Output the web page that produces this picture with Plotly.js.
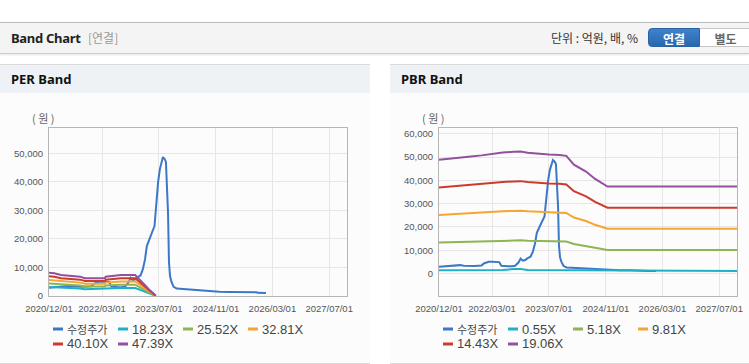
<!DOCTYPE html>
<html><head><meta charset="utf-8">
<script src="https://cdn.plot.ly/plotly-3.0.1.min.js"></script>
<style>
body{margin:0;width:749px;height:364px;overflow:hidden;background:#fff;position:relative;font-family:"Liberation Sans","Noto Sans CJK KR",sans-serif}
.hdr{position:absolute;left:0;top:22px;width:749px;height:30px;background:#f4f4f4;border-top:1px solid #b9b9b9;border-bottom:1px solid #cdcdcd;box-shadow:0 1px 2px rgba(0,0,0,.10)}
.hdr .t{position:absolute;left:11px;top:7px;font-size:13px;font-weight:bold;color:#222;font-family:"Noto Sans","Noto Sans CJK KR",sans-serif;line-height:16px;letter-spacing:-0.3px}
.hdr .s{position:absolute;left:88px;top:7px;font-size:12px;color:#999;line-height:16px;font-family:"Noto Sans CJK KR",sans-serif}
.hdr .u{position:absolute;left:551px;top:7px;font-size:12px;color:#333;line-height:16px;font-family:"Noto Sans CJK KR",sans-serif}
.btn{position:absolute;top:5px;height:19px;line-height:19px;text-align:center;font-size:12px;font-weight:bold;font-family:"Noto Sans CJK KR",sans-serif;box-sizing:border-box}
.b1{left:648px;width:52px;background:linear-gradient(#3d83cc,#2a67ad);color:#fff;border-radius:4px 0 0 4px;border:1px solid #2a62a3}
.b2{left:700px;width:52px;background:#fff;color:#666;border:1px solid #c6c6c6;border-left:none}
.panel{position:absolute;top:64px;height:298px;background:#fcfcfd;border-top:1px solid #dadada;border-bottom:1px solid #dadada}
.panel .ph{height:28px;background:#eef2f7;position:relative}
.panel .ph span{position:absolute;left:11px;top:6px;font-size:13px;font-weight:bold;color:#111;font-family:"Noto Sans",sans-serif;line-height:16px}
#per,#pbr{position:absolute;top:92px;height:270px}
</style></head>
<body>
<div class="hdr"><span class="t">Band Chart</span><span class="s">[연결]</span><span class="u">단위 : 억원, 배, %</span><div class="btn b1">연결</div><div class="btn b2">별도</div></div>
<div class="panel" style="left:0;width:370px"><div class="ph"><span>PER Band</span></div></div>
<div class="panel" style="left:390px;width:359px"><div class="ph"><span>PBR Band</span></div></div>
<div id="per" style="left:0;width:370px"></div>
<div id="pbr" style="left:390px;width:359px"></div>
<script>
// ---- data ----
const priceDates = ['2020-12-01','2021-01-01','2021-02-01','2021-03-01','2021-04-01','2021-05-01','2021-06-01','2021-07-01','2021-08-01','2021-09-01','2021-10-01','2021-11-01','2021-12-01','2021-12-20','2022-01-10','2022-02-01','2022-03-01','2022-04-01','2022-05-01','2022-05-20','2022-06-15','2022-07-15','2022-08-15','2022-09-15','2022-10-15','2022-11-01','2022-11-20','2022-12-10','2023-01-01','2023-01-25','2023-02-15','2023-03-05','2023-03-20','2023-04-10','2023-05-01','2023-05-25','2023-06-10','2023-06-25','2023-07-10','2023-07-25','2023-08-05','2023-08-20','2023-08-31','2023-09-12','2023-09-18','2023-09-26','2023-10-05','2023-10-17','2023-11-05','2023-12-01','2024-01-01','2024-03-01','2024-05-01','2024-07-01','2024-10-01','2024-12-01','2025-03-01','2025-06-01','2025-09-01','2025-10-15','2025-10-25','2026-01-05'];
const priceValues = [2900,3000,3000,3100,3200,3300,3600,3300,3200,3200,3200,3300,3400,4300,4700,5000,5100,5000,4900,3300,3100,3100,3100,3300,4800,6400,5500,5800,6600,7200,9500,13000,17500,19500,22000,24500,33000,40000,44500,47500,48700,48000,47000,35000,29000,12000,7000,5000,3200,2600,2500,2400,2200,2000,1700,1500,1400,1400,1400,1300,1100,1050];

const perDates = ['2020-12-01','2021-01-15','2021-03-15','2021-08-25','2021-10-05','2022-03-25','2022-04-01','2022-08-10','2022-12-10','2023-01-15','2023-02-15','2023-03-15','2023-04-15','2023-05-15','2023-06-05'];
const per1823 = [3136,3063,2826,2607,2388,2388,2607,2826,2826,2279,1768,1276,766,365,36];
const per2552 = [4389,4287,3956,3649,3343,3343,3649,3956,3956,3190,2475,1786,1072,510,51];
const per3281 = [5643,5512,5086,4692,4298,4298,4692,5086,5086,4101,3183,2297,1378,656,66];
const per4010 = [6897,6737,6216,5734,5253,5253,5734,6216,6216,5013,3890,2807,1684,802,80];
const per4739 = [8151,7962,7345,6777,6208,6208,6777,7345,7345,5924,4597,3317,1990,948,95];
const perLabels = ['수정주가','18.23X','25.52X','32.81X','40.10X','47.39X'];

const pbrDates = ['2020-12-01','2021-03-01','2021-06-01','2021-09-01','2021-12-01','2022-03-01','2022-06-01','2022-09-01','2022-11-01','2023-01-01','2023-04-01','2023-07-01','2023-10-01','2023-11-28','2024-02-01','2024-05-15','2024-08-01','2024-11-15','2027-12-01'];
const pbr055 = [1410,1420,1440,1450,1460,1490,1500,1900,1900,1500,1480,1470,1470,1460,1350,1260,1170,1080,1080];
const pbr518 = [13260,13420,13570,13650,13780,13990,14120,14190,14230,14090,13960,13880,13830,13730,12690,11890,11030,10140,10140];
const pbr981 = [25110,25410,25700,25850,26090,26490,26730,26880,26960,26680,26440,26290,26190,26000,24030,22520,20900,19200,19200];
const pbr1443 = [36940,37370,37810,38020,38380,38960,39320,39540,39650,39250,38890,38670,38530,38240,35350,33130,30740,28240,28240];
const pbr1906 = [48790,49360,49940,50220,50700,51460,51940,52220,52380,51840,51370,51080,50890,50510,46700,43760,40600,37300,37300];
const pbrLabels = ['수정주가','0.55X','5.18X','9.81X','14.43X','19.06X'];

const tickDates = ['2020-12-01','2022-03-01','2023-07-01','2024-11-01','2026-03-01','2027-07-01'];
const tickLabels = ['2020/12/01','2022/03/01','2023/07/01','2024/11/01','2026/03/01','2027/07/01'];
const yUnit = '( 원 )';

// ---- styling ----
const colors = ['#3b78c8','#1eb1c6','#8db552','#f5a531','#cd3a2b','#93509d'];
const FONT = '"Liberation Sans",sans-serif';
const KFONT = '"Noto Sans CJK KR",sans-serif';
const W = 298, H = 168;

function band(x, y, i){
  return {x:x, y:y, type:'scatter', mode:'lines', line:{color:colors[i], width:2}, hoverinfo:'skip', showlegend:false};
}
function legendParts(labels){
  const offs=[4,69,134,199], rows=[33,48];
  const shapes=[], anns=[];
  labels.forEach((lab,i)=>{
    const off=offs[i%4], ry=rows[Math.floor(i/4)];
    const yy=-ry/H;
    shapes.push({type:'line',xref:'paper',yref:'paper',x0:off/W,x1:(off+10)/W,y0:yy,y1:yy,line:{color:colors[i],width:3}});
    anns.push({xref:'paper',yref:'paper',x:(off+12)/W,y:yy,xanchor:'left',yanchor:'middle',showarrow:false,text:lab,
      font:{family:(i===0?KFONT:FONT),size:(i===0?11:13),color:'#444'}});
  });
  return {shapes, anns};
}
function layout(labels, yrange, width, rmargin, unitX){
  const lg = legendParts(labels);
  lg.anns.push({xref:'paper',yref:'paper',x:unitX,y:1+10/H,xanchor:'center',yanchor:'middle',showarrow:false,text:yUnit,font:{family:KFONT,size:11,color:'#666'}});
  return {
    width: width, height:270,
    margin:{l:49,r:rmargin,t:36,b:66,pad:0},
    paper_bgcolor:'rgba(0,0,0,0)', plot_bgcolor:'rgba(0,0,0,0)',
    showlegend:false,
    xaxis:{type:'date',range:['2020-12-01','2027-12-01'],tickmode:'array',tickvals:tickDates,ticktext:tickLabels,tickangle:0,
      showgrid:true,gridcolor:'#e6e6e6',showline:true,mirror:true,linecolor:'#b5b5b5',linewidth:1,ticks:'',ticklabelstandoff:4,
      tickfont:{family:FONT,size:9.5,color:'#555'},zeroline:false,fixedrange:true},
    yaxis:{range:yrange,dtick:10000,tickformat:',d',showgrid:true,gridcolor:'#e6e6e6',showline:true,mirror:true,
      linecolor:'#b5b5b5',linewidth:1,ticks:'',ticklabelstandoff:3,zeroline:false,tickfont:{family:FONT,size:9.5,color:'#555'},fixedrange:true},
    shapes: lg.shapes, annotations: lg.anns
  };
}
const cfg={staticPlot:true,displayModeBar:false};

const perTraces=[band(priceDates,priceValues,0),band(perDates,per1823,1),band(perDates,per2552,2),band(perDates,per3281,3),band(perDates,per4010,4),band(perDates,per4739,5)];
Plotly.newPlot('per', perTraces, layout(perLabels,[0,58900],370,23,(43-49)/W), cfg);

const pbrTraces=[band(priceDates,priceValues,0),band(pbrDates,pbr055,1),band(pbrDates,pbr518,2),band(pbrDates,pbr981,3),band(pbrDates,pbr1443,4),band(pbrDates,pbr1906,5)];
Plotly.newPlot('pbr', pbrTraces, layout(pbrLabels,[-9650,62450],359,12,(433-439)/W), cfg);
</script>
</body></html>
